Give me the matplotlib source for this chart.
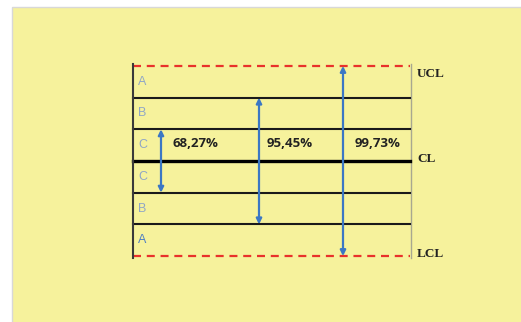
import matplotlib.pyplot as plt
from matplotlib.patches import Rectangle

# control chart zones, in sigma units
limit_levels = [3, -3]
limit_names = ["UCL", "LCL"]
zone_lines = [2, 1, -1, -2]
center_level = 0
zone_letters = ["A", "B", "C", "C", "B", "A"]
zone_mids = [2.5, 1.5, 0.5, -0.5, -1.5, -2.5]
coverage = ["68,27%", "95,45%", "99,73%"]
coverage_sigma = [1, 2, 3]

fig = plt.figure(figsize=(5.21, 3.22), dpi=100)
ax = fig.add_axes([0, 0, 1, 1])
ax.set_xlim(0, 521)
ax.set_ylim(-5.08, 5.08)
ax.axis("off")

# yellow slide background
ax.add_patch(Rectangle((12, -5.2), 520, 10.05, facecolor="#f6f29c",
                       edgecolor="#d8d8d8", lw=1, zorder=0))

x0, x1 = 133, 410
for lv in limit_levels:
    ax.plot([x0, x1], [lv, lv], color="#e8322b", lw=1.6, ls=(0, (3.6, 2.6)), zorder=3)
for lv in zone_lines:
    ax.plot([x0, x1], [lv, lv], color="#1a1a1a", lw=1.5, zorder=3)
ax.plot([x0, x1], [center_level, center_level], color="#000000", lw=2.4, zorder=3)

# axes frame lines
ax.plot([x0, x0], [3.05, -3.05], color="#3a3a3a", lw=1.5, zorder=3)
ax.plot([x1 + 1, x1 + 1], [3.05, -3.05], color="#a8a890", lw=1, zorder=2)

# zone letters
for i, (letter, m) in enumerate(zip(zone_letters, zone_mids)):
    col = "#4f7fc2" if i == len(zone_letters) - 1 else "#8fa6c6"
    ax.text(138, m, letter, color=col, fontsize=9, family="Liberation Sans",
            va="center", ha="left")

# coverage arrows
arrow_x = [161, 259, 343]
label_x = [195, 290, 378]
for s, lab, ax_x, lx in zip(coverage_sigma, coverage, arrow_x, label_x):
    ax.annotate("", xy=(ax_x, s), xytext=(ax_x, -s),
                arrowprops=dict(arrowstyle="<|-|>", color="#3b77c4", lw=1.6,
                                mutation_scale=8, shrinkA=0, shrinkB=0), zorder=4)
    ax.text(lx, 0.55, lab, fontsize=9.5, fontweight="bold", color="#222222",
            family="Open Sans", ha="center", va="center", zorder=5)

# limit names
ax.text(417, 2.75, "UCL", fontsize=9.5, fontweight="bold", family="Liberation Serif",
        color="#222222", va="center")
ax.text(417, center_level + 0.05, "CL", fontsize=9.5, fontweight="bold",
        family="Liberation Serif", color="#222222", va="center")
ax.text(417, -2.95, "LCL", fontsize=9.5, fontweight="bold", family="Liberation Serif",
        color="#222222", va="center")

fig.savefig("out.png", dpi=100)
